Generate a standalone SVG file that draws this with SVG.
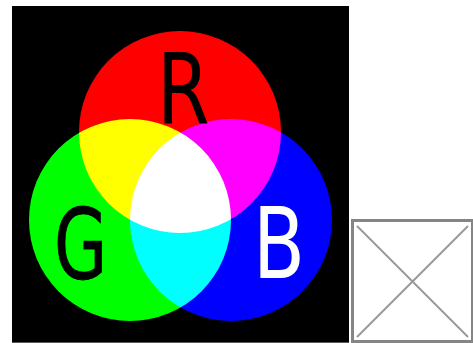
<svg xmlns="http://www.w3.org/2000/svg" width="473" height="343" viewBox="0 0 473 343">
<defs>
<style>
.c{mix-blend-mode:screen}
.lbl{font-family:"DejaVu Sans Condensed","DejaVu Sans",sans-serif;font-size:98px}
.ph{fill:#fff;stroke:#858585;stroke-width:3}
.x{stroke:#999;stroke-width:2}
</style>
<filter id="soft" x="-5%" y="-5%" width="110%" height="110%"><feGaussianBlur stdDeviation="0.7"/></filter>
</defs>
<rect width="473" height="343" fill="#fff"/>
<g id="picture">
<rect x="12" y="6" width="337" height="337" fill="#000"/>
<g filter="url(#soft)" style="isolation:isolate">
<rect x="12" y="6" width="337" height="336" fill="#000"/>
<circle id="red" class="c" cx="180" cy="132" r="101" fill="#f00"/>
<circle id="green" class="c" cx="130" cy="220" r="101" fill="#0f0"/>
<circle id="blue" class="c" cx="231" cy="220" r="101" fill="#00f"/>
</g>
<rect x="12" y="342" width="337" height="1" fill="#5a5a5a"/>
<text id="R" class="lbl" x="0" y="0" transform="translate(157,123) scale(0.86,1)" fill="#000">R</text>
<text id="G" class="lbl" x="0" y="0" transform="translate(54,279) scale(0.78,1)" fill="#000" stroke="#000" stroke-width="0.8">G</text>
<text id="B" class="lbl" x="0" y="0" transform="translate(253,278) scale(0.86,1)" fill="#fff">B</text>
</g>
<g id="placeholder">
<rect class="ph" x="352.5" y="220.5" width="120" height="121"/>
<line class="x" x1="357" y1="226" x2="468" y2="337"/>
<line class="x" x1="468" y1="226" x2="357" y2="337"/>
</g>
</svg>
